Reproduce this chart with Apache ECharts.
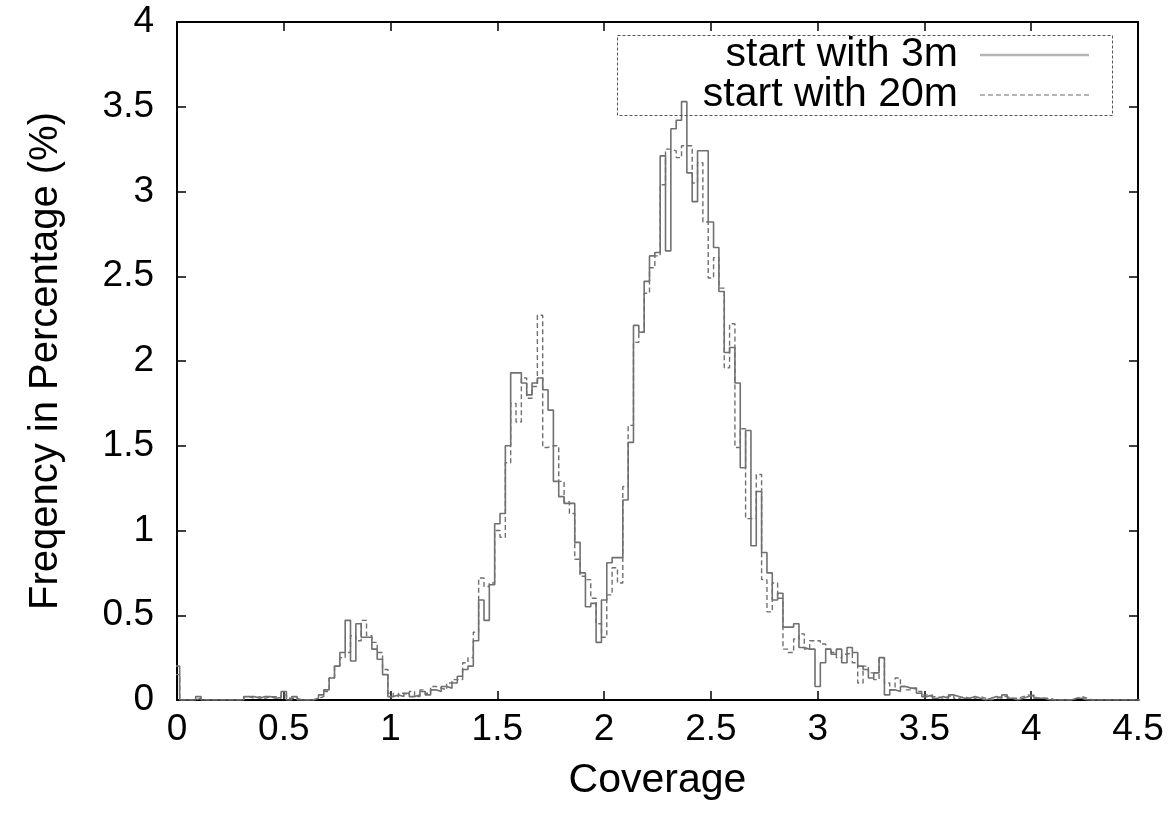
<!DOCTYPE html>
<html>
<head>
<meta charset="utf-8">
<script src="https://cdn.jsdelivr.net/npm/echarts@6/dist/echarts.min.js"></script>
<style>
  html, body { margin: 0; padding: 0; background: #fff; }
  #chart { width: 1169px; height: 824px; }
</style>
</head>
<body>
<div id="chart"></div>
<script>
// Histogram of coverage, bins of 0.025 centred on multiples of 0.025 (0 .. 4.5)
const binWidth = 0.025;

// Frequency (%) per bin, run started with 3m reads
const start3m = [
  0.2, 0, 0, 0, 0.02, 0, 0, 0, 0, 0,
  0, 0, 0, 0.02, 0.02, 0.01, 0.02, 0.02, 0.01, 0.015,
  0.05, 0, 0.02, 0, 0, 0, 0.01, 0.03, 0.06, 0.13,
  0.2, 0.28, 0.47, 0.23, 0.45, 0.37, 0.37, 0.3, 0.24, 0.15,
  0.02, 0.03, 0.02, 0.04, 0.02, 0.03, 0.05, 0.03, 0.06, 0.05,
  0.08, 0.07, 0.1, 0.14, 0.18, 0.2, 0.35, 0.59, 0.47, 0.68,
  1.04, 1.1, 1.5, 1.93, 1.93, 1.87, 1.8, 1.87, 1.9, 1.83,
  1.71, 1.29, 1.2, 1.16, 1.16, 0.93, 0.75, 0.55, 0.57, 0.34,
  0.59, 0.81, 0.84, 0.84, 1.18, 1.52, 2.21, 2.17, 2.47, 2.62,
  2.64, 3.21, 2.65, 3.37, 3.42, 3.53, 3.11, 2.94, 3.24, 3.24,
  2.82, 2.67, 2.41, 2.05, 2.08, 1.87, 1.37, 1.59, 0.91, 1.23,
  0.87, 0.75, 0.59, 0.63, 0.43, 0.43, 0.45, 0.31, 0.3, 0.3,
  0.08, 0.22, 0.3, 0.27, 0.3, 0.22, 0.31, 0.28, 0.2, 0.18,
  0.13, 0.16, 0.25, 0.03, 0.06, 0.05, 0.08, 0.07, 0.07, 0.04,
  0.02, 0.03, 0.01, 0.02, 0.01, 0.03, 0.02, 0.01, 0.01, 0.02,
  0.01, 0, 0.01, 0.02, 0.01, 0.03, 0.01, 0, 0.01, 0.02,
  0.03, 0.01, 0.01, 0, 0, 0, 0, 0, 0.01, 0.01,
  0, 0, 0, 0, 0, 0, 0, 0, 0, 0, 0
];

// Frequency (%) per bin, run started with 20m reads
const start20m = [
  0.15, 0, 0, 0, 0.01, 0, 0, 0, 0, 0,
  0, 0, 0, 0.02, 0.01, 0.02, 0.01, 0.02, 0.02, 0.01,
  0.03, 0.01, 0.01, 0, 0, 0, 0.01, 0.02, 0.05, 0.13,
  0.2, 0.25, 0.28, 0.38, 0.35, 0.47, 0.38, 0.34, 0.28, 0.18,
  0.04, 0.02, 0.04, 0.03, 0.05, 0.02, 0.06, 0.04, 0.08, 0.07,
  0.06, 0.1, 0.12, 0.12, 0.22, 0.25, 0.4, 0.72, 0.67, 0.69,
  1.0, 0.96, 1.4, 1.75, 1.64, 1.9, 1.78, 1.85, 2.27, 1.49,
  1.5, 1.5, 1.29, 1.17, 1.1, 0.83, 0.73, 0.71, 0.6, 0.45,
  0.37, 0.62, 0.78, 0.69, 1.26, 1.62, 2.11, 2.17, 2.4, 2.55,
  2.62, 3.04, 3.25, 3.24, 3.2, 3.27, 3.27, 3.05, 3.17, 2.82,
  2.49, 2.61, 2.43, 1.96, 2.22, 1.49, 1.6, 1.07, 1.07, 1.33,
  0.71, 0.52, 0.69, 0.6, 0.3, 0.28, 0.36, 0.39, 0.3, 0.35,
  0.35, 0.33, 0.3, 0.28, 0.25, 0.27, 0.28, 0.22, 0.1, 0.2,
  0.16, 0.12, 0.25, 0.1, 0.06, 0.13, 0.08, 0.06, 0.07, 0.05,
  0.03, 0.02, 0.02, 0.01, 0.02, 0.03, 0.01, 0.02, 0.01, 0.01,
  0.02, 0.01, 0, 0.01, 0.02, 0.02, 0.01, 0.01, 0.02, 0.03,
  0.02, 0.01, 0.01, 0.01, 0, 0, 0, 0, 0.01, 0.02,
  0.01, 0, 0, 0, 0, 0, 0, 0, 0, 0, 0
];

const seriesNames = ['start with 3m', 'start with 20m'];
const xTicks = { min: 0, max: 4.5, step: 0.5 };
const yTicks = { min: 0, max: 4, step: 0.5 };

// Turn per-bin values into step-line points: each point is a bin's left edge
function toSteps(values) {
  const pts = values.map((v, k) => [(k - 0.5) * binWidth, v]);
  pts.push([(values.length - 0.5) * binWidth, values[values.length - 1]]);
  return pts;
}

const FONT = 'Liberation Sans, Arial, sans-serif';
const chart = echarts.init(document.getElementById('chart'), null, { renderer: 'canvas' });

const frameLine = { show: true, onZero: false, lineStyle: { color: '#000', width: 2 } };
const innerTick = { show: true, inside: true, length: 9, lineStyle: { color: '#000', width: 1.5 } };

const option = {
  backgroundColor: '#fff',
  animation: false,
  grid: { left: 177, right: 31, top: 22, bottom: 124, containLabel: false },
  xAxis: [
    {
      type: 'value', min: xTicks.min, max: xTicks.max, interval: xTicks.step,
      position: 'bottom',
      axisLine: frameLine, axisTick: innerTick, splitLine: { show: false },
      axisLabel: { color: '#000', fontSize: 37, fontFamily: FONT, margin: 11 },
      name: 'Coverage', nameLocation: 'middle', nameGap: 60,
      nameTextStyle: { color: '#000', fontSize: 41, fontFamily: FONT }
    },
    {
      type: 'value', min: xTicks.min, max: xTicks.max, interval: xTicks.step,
      position: 'top',
      axisLine: frameLine, axisTick: innerTick, splitLine: { show: false },
      axisLabel: { show: false }
    }
  ],
  yAxis: [
    {
      type: 'value', min: yTicks.min, max: yTicks.max, interval: yTicks.step,
      position: 'left',
      axisLine: frameLine, axisTick: innerTick, splitLine: { show: false },
      axisLabel: { color: '#000', fontSize: 37, fontFamily: FONT, margin: 23 },
      name: 'Freqency in Percentage (%)', nameLocation: 'middle', nameGap: 111, nameRotate: 90,
      nameTextStyle: { color: '#000', fontSize: 40, fontFamily: FONT }
    },
    {
      type: 'value', min: yTicks.min, max: yTicks.max, interval: yTicks.step,
      position: 'right',
      axisLine: frameLine, axisTick: innerTick, splitLine: { show: false },
      axisLabel: { show: false }
    }
  ],
  series: [
    {
      name: seriesNames[0], type: 'line', step: 'end', showSymbol: false,
      data: toSteps(start3m),
      lineStyle: { color: '#707070', width: 1.6, type: 'solid' },
      z: 3
    },
    {
      name: seriesNames[1], type: 'line', step: 'end', showSymbol: false,
      data: toSteps(start20m),
      lineStyle: { color: '#707070', width: 1.4, type: [5, 3] },
      z: 2
    }
  ],
  graphic: [
    {
      type: 'rect', shape: { x: 617.5, y: 35.5, width: 495, height: 80 },
      style: { fill: 'none', stroke: '#555', lineWidth: 1, lineDash: [3, 2] },
      z: 10
    },
    {
      type: 'text', x: 958, y: 55,
      style: { text: seriesNames[0], fill: '#000', font: '41px ' + FONT, align: 'right', verticalAlign: 'middle' },
      z: 11
    },
    {
      type: 'text', x: 958, y: 95,
      style: { text: seriesNames[1], fill: '#000', font: '41px ' + FONT, align: 'right', verticalAlign: 'middle' },
      z: 11
    },
    {
      type: 'line', shape: { x1: 980, y1: 55, x2: 1089, y2: 55 },
      style: { stroke: '#b5b5b5', lineWidth: 2.5 },
      z: 11
    },
    {
      type: 'line', shape: { x1: 980, y1: 95, x2: 1089, y2: 95 },
      style: { stroke: '#b5b5b5', lineWidth: 2, lineDash: [5, 3] },
      z: 11
    }
  ]
};

chart.setOption(option);
</script>
</body>
</html>
